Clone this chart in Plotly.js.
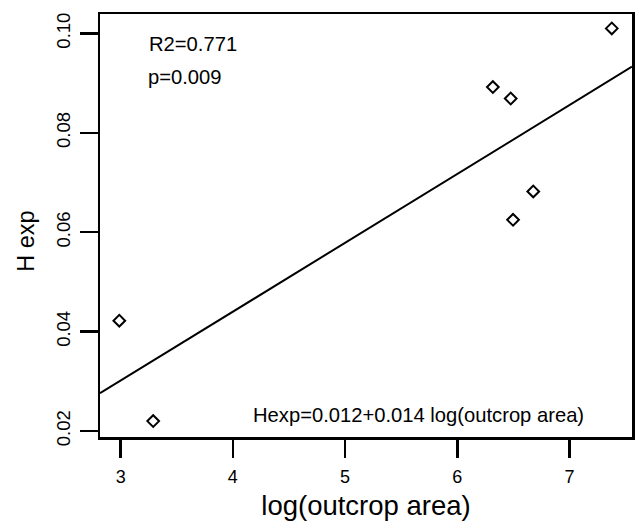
<!DOCTYPE html>
<html>
<head>
<meta charset="utf-8">
<script src="https://cdn.plot.ly/plotly-3.0.1.min.js"></script>
<style>html,body{margin:0;padding:0;background:#fff;}#chart{width:635px;height:521px;}</style>
</head>
<body>
<div id="chart"></div>
<script>
// Data
const logArea = [2.988, 3.29, 6.317, 6.476, 6.497, 6.677, 7.377];
const hExp    = [0.0422, 0.0220, 0.0892, 0.0869, 0.0625, 0.0682, 0.1010];
// Fitted line endpoints (read at plot edges)
const fitX = [2.816, 7.557];
const fitY = [0.0276, 0.0933];
const xTicks = [3, 4, 5, 6, 7];
const yTicks = [0.02, 0.04, 0.06, 0.08, 0.10];
const yTickText = ['0.02', '0.04', '0.06', '0.08', '0.10'];
const statsText = ['R2=0.771', 'p=0.009'];
const eqText = 'Hexp=0.012+0.014 log(outcrop area)';
const xTitle = 'log(outcrop area)';
const yTitle = 'H exp';

const FONT = 'Liberation Sans, Arial, Helvetica, sans-serif';

const traces = [
  {
    x: fitX, y: fitY, mode: 'lines', type: 'scatter',
    line: {color: '#000', width: 2}, hoverinfo: 'skip', showlegend: false
  },
  {
    x: logArea, y: hExp, mode: 'markers', type: 'scatter',
    marker: {symbol: 'diamond-open', size: 9, color: '#000', line: {color: '#000', width: 2}},
    showlegend: false
  }
];

const layout = {
  width: 635, height: 521,
  margin: {l: 100, r: 2.5, t: 14, b: 83.5},
  paper_bgcolor: '#fff', plot_bgcolor: '#fff',
  font: {family: FONT, color: '#000'},
  showlegend: false,
  xaxis: {
    range: [2.816, 7.557], tickvals: xTicks, ticktext: xTicks.map(String),
    ticks: 'outside', ticklen: 18, tickwidth: 2.5, tickcolor: '#000',
    showline: true, linewidth: 2.5, linecolor: '#000', mirror: true,
    showgrid: false, zeroline: false,
    tickfont: {family: FONT, size: 18, color: '#000'},
    ticklabelstandoff: 4,
    title: {text: xTitle, font: {family: FONT, size: 27.5, color: '#000'}}
  },
  yaxis: {
    range: [0.0188, 0.1039], tickvals: yTicks, ticktext: yTickText,
    ticks: 'outside', ticklen: 18, tickwidth: 2.5, tickcolor: '#000',
    showline: true, linewidth: 2.5, linecolor: '#000', mirror: true,
    showgrid: false, zeroline: false, tickangle: -90,
    tickfont: {family: FONT, size: 18.5, color: '#000'},
    ticklabelstandoff: 2
  },
  annotations: [
    {xref: 'paper', yref: 'paper', x: -0.138, y: 0.463, xanchor: 'center', yanchor: 'middle',
     textangle: -90, text: yTitle, showarrow: false, font: {family: FONT, size: 23.5, color: '#000'}},
    {xref: 'paper', yref: 'paper', x: 0.089, y: 0.930, xanchor: 'left', yanchor: 'middle',
     text: statsText[0], showarrow: false, font: {family: FONT, size: 20.2, color: '#000'}},
    {xref: 'paper', yref: 'paper', x: 0.087, y: 0.852, xanchor: 'left', yanchor: 'middle',
     text: statsText[1], showarrow: false, font: {family: FONT, size: 20.2, color: '#000'}},
    {xref: 'paper', yref: 'paper', x: 0.284, y: 0.0524, xanchor: 'left', yanchor: 'middle',
     text: eqText, showarrow: false, font: {family: FONT, size: 20.2, color: '#000'}}
  ]
};

Plotly.newPlot('chart', traces, layout, {displayModeBar: false, staticPlot: true});
</script>
</body>
</html>
